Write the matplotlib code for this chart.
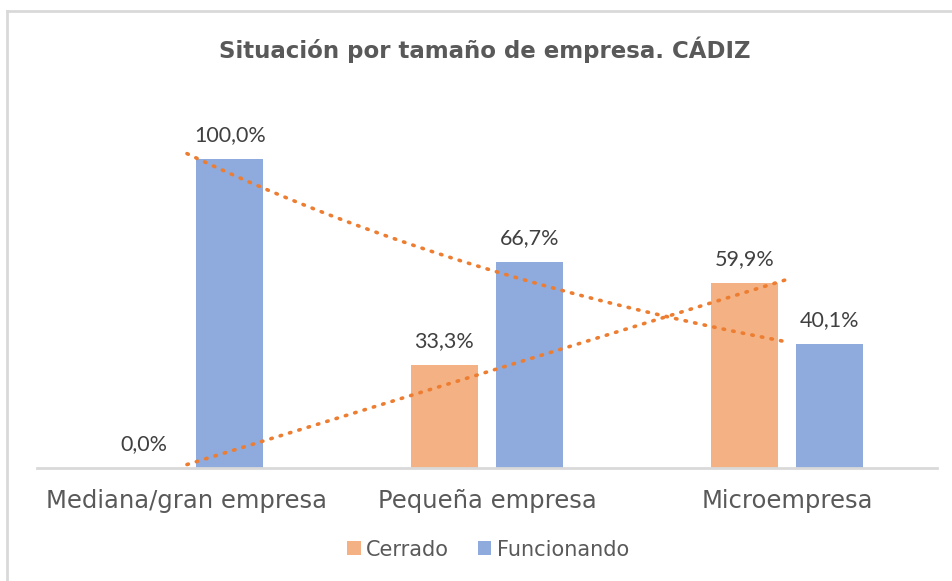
import numpy as np
import matplotlib
matplotlib.use("Agg")
import matplotlib.pyplot as plt
from matplotlib.lines import Line2D

categories = ["Mediana/gran empresa", "Pequeña empresa", "Microempresa"]
cerrado = [0.0, 33.3, 59.9]
funcionando = [100.0, 66.7, 40.1]
series_names = ["Cerrado", "Funcionando"]

orange = "#F4B183"
blue = "#8FAADC"
trend_color = "#ED7D31"

fig = plt.figure(figsize=(9.53, 5.81), dpi=100)
ax = fig.add_axes([0.0388, 0.1945, 0.9444, 0.6382])

x = np.arange(len(categories))
w = 0.2233
off = 0.1425
b1 = ax.bar(x - off, cerrado, w, color=orange, label=series_names[0])
b2 = ax.bar(x + off, funcionando, w, color=blue, label=series_names[1])

# trendlines: linear for Cerrado, exponential for Funcionando
p = np.polyfit(x, cerrado, 1)
ax.plot(x, np.polyval(p, x), color=trend_color, lw=2.6, ls=(0, (0.4, 2.3)),
        dash_capstyle="round", zorder=3)
xs = np.linspace(0, 2, 60)
q = np.polyfit(x, np.log(funcionando), 1)
ax.plot(xs, np.exp(np.polyval(q, xs)), color=trend_color, lw=2.6, ls=(0, (0.4, 2.3)),
        dash_capstyle="round", zorder=3)

# data labels
for bars, vals in ((b1, cerrado), (b2, funcionando)):
    for r, v in zip(bars, vals):
        ax.annotate(f"{v:.1f}%".replace(".", ","),
                    (r.get_x() + r.get_width() / 2, v),
                    xytext=(0, 13), textcoords="offset points",
                    ha="center", va="baseline", fontsize=15.5,
                    family="Lato", color="#404040")

ax.set_xlim(-0.5, 2.5)
ax.set_ylim(0, 120)
ax.set_yticks([])
ax.set_xticks(x)
ax.set_xticklabels(categories, fontsize=17.5, color="#595959", family="DejaVu Sans")
ax.tick_params(axis="x", length=0, pad=15)
for s in ("top", "right", "left"):
    ax.spines[s].set_visible(False)
ax.spines["bottom"].set_color("#D9D9D9")
ax.spines["bottom"].set_linewidth(2)

fig.text(0.509, 0.914, "Situación por tamaño de empresa. CÁDIZ", ha="center", va="center",
         fontsize=16.5, fontweight="bold", color="#595959", family="DejaVu Sans")

leg = fig.legend(handles=[b1, b2], loc="center", bbox_to_anchor=(0.512, 0.054), ncol=2,
                 frameon=False, fontsize=15, handlelength=0.65, handleheight=0.65,
                 handletextpad=0.25, columnspacing=1.4)
for t in leg.get_texts():
    t.set_color("#595959")

# chart border (top and left edges visible)
fig.add_artist(Line2D([7 / 953, 1], [1 - 10.5 / 581] * 2, color="#D9D9D9", lw=2))
fig.add_artist(Line2D([7.5 / 953] * 2, [0, 1 - 10.5 / 581], color="#D9D9D9", lw=2))

fig.savefig("out.png", dpi=100)
